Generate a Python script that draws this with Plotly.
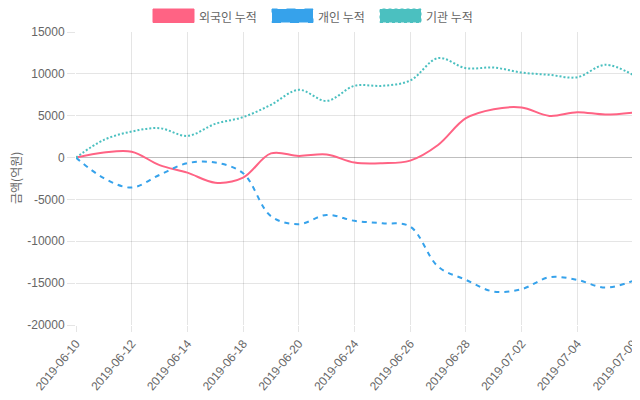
import plotly.graph_objects as go

dates = ["2019-06-10", "2019-06-11", "2019-06-12", "2019-06-13", "2019-06-14",
         "2019-06-17", "2019-06-18", "2019-06-19", "2019-06-20", "2019-06-21",
         "2019-06-24", "2019-06-25", "2019-06-26", "2019-06-27", "2019-06-28",
         "2019-07-01", "2019-07-02", "2019-07-03", "2019-07-04", "2019-07-05",
         "2019-07-09"]
foreign = [0, 600, 700, -900, -1800, -3000, -2400, 500, 200, 360, -600, -670, -360,
           1500, 4700, 5780, 5980, 4980, 5420, 5140, 5380]
individual = [0, -2460, -3580, -2070, -670, -600, -1870, -7000, -7960, -6850, -7560,
              -7840, -8240, -13020, -14610, -16010, -15720, -14290, -14610, -15530, -14730]
institution = [0, 2110, 3110, 3510, 2590, 4030, 4830, 6300, 8090, 6770, 8570, 8570,
               9200, 11880, 10680, 10750, 10160, 9880, 9600, 11080, 9880]
series_names = ["외국인 누적", "개인 누적", "기관 누적"]
y_ticks = [15000, 10000, 5000, 0, -5000, -10000, -15000, -20000]

RED = "rgb(255,99,132)"
BLUE = "rgb(54,162,235)"
TEAL = "rgb(75,192,192)"

fig = go.Figure()
for vals, name, col, dash in [(foreign, series_names[0], RED, "solid"),
                              (individual, series_names[1], BLUE, "5px,5px"),
                              (institution, series_names[2], TEAL, "2px,2px")]:
    fig.add_trace(go.Scatter(x=list(range(len(dates))), y=vals, name=name, mode="lines",
                             line=dict(color=col, width=2, dash=dash, shape="spline", smoothing=1.0),
                             showlegend=False))

OFF = 8  # page body margin
FW, FH = 640 - OFF, 400 - OFF
L, R, T, B = 76 - OFF, 633 - OFF, 32 - OFF, 325 - OFF
W, H = R - L, B - T
def px(x):
    return (x - OFF - L) / W
def py(y):
    return (B - (y - OFF)) / H

legend_items = [(153, 197, RED, "solid"), (272, 316, BLUE, "dash"), (380, 424, TEAL, "dot")]
for (bx, tx, col, dash), name in zip(legend_items, series_names):
    fig.add_shape(type="rect", xref="paper", yref="paper",
                  x0=px(bx), x1=px(bx + 41), y0=py(22.5), y1=py(9),
                  fillcolor=col, line=dict(color=col, width=1, dash=dash))
    fig.add_annotation(xref="paper", yref="paper", x=px(tx), y=py(16), text=name,
                       showarrow=False, xanchor="left", yanchor="middle",
                       font=dict(family="Noto Sans CJK KR", size=12, color="#666"))

fig.add_annotation(xref="paper", yref="paper", x=px(15), y=py(178), text="금액(억원)",
                   showarrow=False, textangle=-90, xanchor="center", yanchor="middle",
                   font=dict(family="Noto Sans CJK KR", size=12, color="#666"))

fig.update_layout(
    width=FW, height=FH,
    margin=dict(l=L, r=FW - R, t=T, b=FH - B, autoexpand=False),
    paper_bgcolor="white", plot_bgcolor="white",
    font=dict(family="Liberation Sans, Arial", size=12, color="#666"),
)
fig.update_xaxes(
    range=[0, len(dates) - 1], automargin=False, ticklabeloverflow="allow",
    tickmode="array", tickvals=list(range(0, len(dates), 2)), ticktext=dates[::2],
    tickangle=-50, showgrid=True, gridcolor="rgba(0,0,0,0.1)", gridwidth=1,
    zeroline=False, showline=False, ticks="outside", ticklen=6,
    tickcolor="rgba(0,0,0,0.1)", tickfont=dict(size=12, color="#666"),
)
fig.update_yaxes(
    range=[-20000, 15000], automargin=False, tickmode="array", tickvals=y_ticks,
    ticktext=[str(v) for v in y_ticks],
    showgrid=True, gridcolor="rgba(0,0,0,0.1)", gridwidth=1,
    zeroline=True, zerolinecolor="rgba(0,0,0,0.25)", zerolinewidth=1,
    showline=False, ticks="outside", ticklen=8, tickcolor="rgba(0,0,0,0.1)",
    tickfont=dict(size=12, color="#666"),
)
fig.write_html("out.html")
